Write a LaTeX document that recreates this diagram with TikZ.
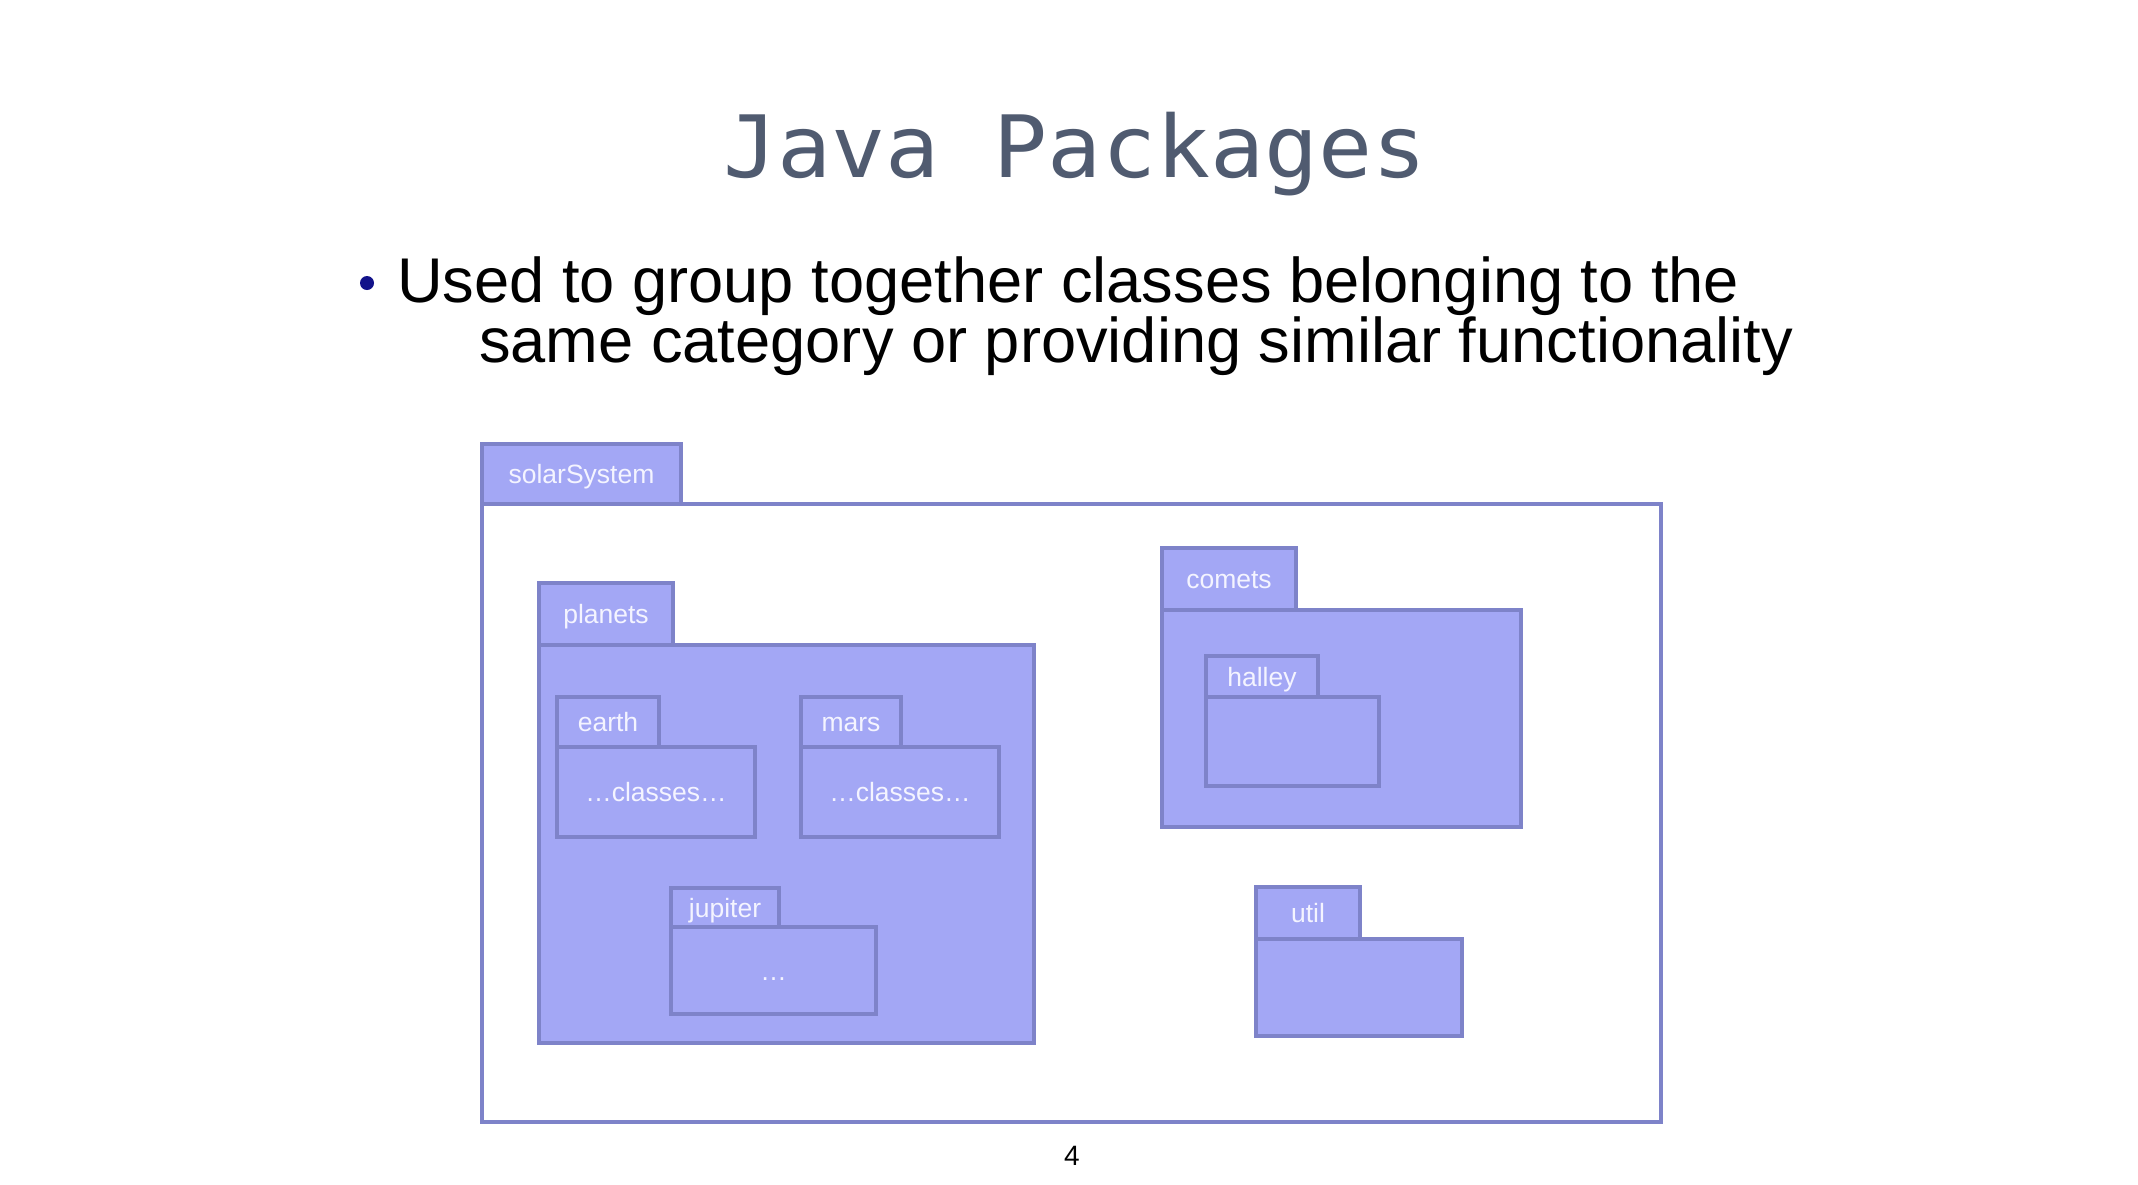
\documentclass[tikz,border=0pt]{standalone}
\usepackage{graphicx}
\usepackage{fontspec}
\setmainfont{Liberation Sans}
\newfontfamily\titlefont{DejaVu Sans Mono}
\definecolor{pkgfill}{HTML}{A3A7F5}
\definecolor{pkgline}{HTML}{7E83C9}
\definecolor{titlecol}{HTML}{505B70}
\definecolor{bulletcol}{HTML}{13138A}
\definecolor{labelcol}{HTML}{F4F4FF}
\begin{document}
\begin{tikzpicture}[x=1pt,y=-1pt,
  pkgbox/.style={rectangle, draw=pkgline, fill=pkgfill, line width=3.5pt,
    outer sep=0pt, inner sep=0pt, anchor=north west,
    font=\fontsize{26.5}{30}\selectfont, text=labelcol,
    text height=19pt, text depth=0pt},
  sz/.style 2 args={minimum width=#1pt, minimum height=#2pt},
  bodytext/.style={anchor=base west, inner sep=0pt, font=\fontsize{63.2}{70}\selectfont, text=black}
]
\fill[white] (0,0) rectangle (2138,1184);
\useasboundingbox (0,0) rectangle (2138,1184);

% title and bullet
\node[anchor=base, inner sep=0pt, text=titlecol, font=\titlefont\fontsize{86}{90}\selectfont]
  (title) at (1075,177) {\scalebox{1.045}[1]{Java Packages}};
\node[circle, fill=bulletcol, minimum size=14pt, inner sep=0pt] (bullet) at (367,283) {};
\node[bodytext] (line1) at (397,302) {Used to group together classes belonging to the};
\node[bodytext] (line2) at (479,362) {same category or providing similar functionality};

% solarSystem
\node[pkgbox, sz={199}{60}] (solarTab) at (482,444) {solarSystem};
\node[pkgbox, fill=white, sz={1179}{618}] (solarBody) at (482,504) {};

% planets
\node[pkgbox, sz={134}{62}] (planetsTab) at (539,583) {planets};
\node[pkgbox, sz={495}{398}] (planetsBody) at (539,645) {};
\node[pkgbox, sz={102}{50}] (earthTab) at (557,697) {earth};
\node[pkgbox, sz={198}{90}] (earthBody) at (557,747) {…classes…};
\node[pkgbox, sz={100}{50}] (marsTab) at (801,697) {mars};
\node[pkgbox, sz={198}{90}] (marsBody) at (801,747) {…classes…};
\node[pkgbox, sz={108}{39}] (jupiterTab) at (671,888) {jupiter};
\node[pkgbox, sz={205}{87}] (jupiterBody) at (671,927) {…};

% comets
\node[pkgbox, sz={134}{62}] (cometsTab) at (1162,548) {comets};
\node[pkgbox, sz={359}{217}] (cometsBody) at (1162,610) {};
\node[pkgbox, sz={112}{41}] (halleyTab) at (1206,656) {halley};
\node[pkgbox, sz={173}{89}] (halleyBody) at (1206,697) {};

% util
\node[pkgbox, sz={104}{52}] (utilTab) at (1256,887) {util};
\node[pkgbox, sz={206}{97}] (utilBody) at (1256,939) {};

% page number
\node[anchor=base, inner sep=0pt, font=\fontsize{28}{30}\selectfont] (pagenum) at (1072,1165) {4};
\end{tikzpicture}
\end{document}
